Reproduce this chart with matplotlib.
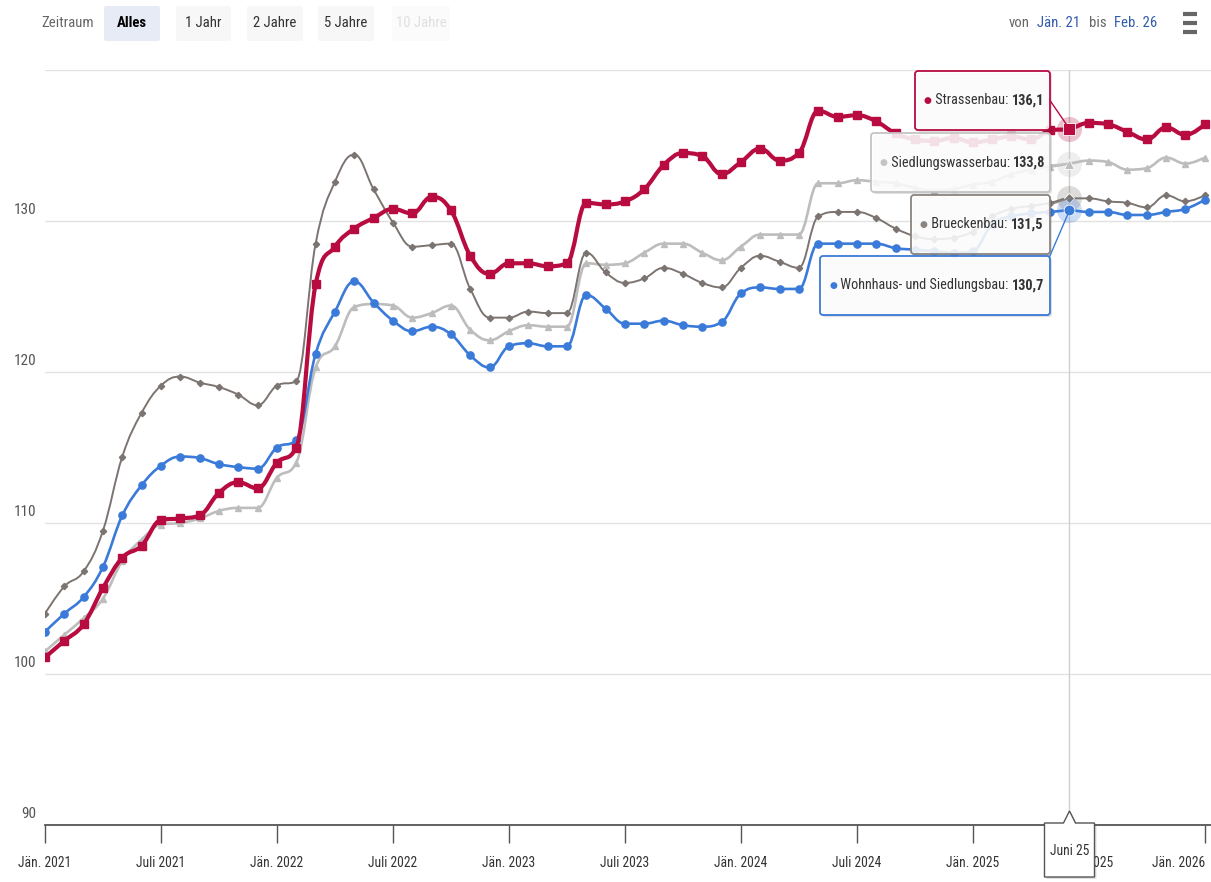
import numpy as np
import matplotlib
matplotlib.use("Agg")
import matplotlib.pyplot as plt
from matplotlib.path import Path
from matplotlib.patches import PathPatch, FancyBboxPatch, Polygon
from matplotlib.transforms import IdentityTransform
from matplotlib.text import Annotation
from matplotlib import font_manager

# Baupreisindex (Basis 2020 = 100), monatlich Jän. 2021 - Jän. 2026
wohnhaus = [102.8, 104.0, 105.1, 107.1, 110.5, 112.5, 113.8, 114.4, 114.3, 113.9, 113.7, 113.6,
            115.0, 115.5, 121.2, 124.0, 126.0, 124.6, 123.4, 122.7, 123.0, 122.5, 121.1, 120.3,
            121.7, 121.9, 121.7, 121.7, 125.1, 124.2, 123.2, 123.2, 123.4, 123.1, 123.0, 123.3,
            125.2, 125.6, 125.5, 125.5, 128.5, 128.5, 128.5, 128.5, 128.2, 128.1, 128.0, 127.9,
            128.0, 129.8, 130.3, 130.5, 130.6, 130.7, 130.6, 130.6, 130.4, 130.4, 130.6, 130.8,
            131.4]
brueckenbau = [104.0, 105.8, 106.8, 109.5, 114.4, 117.3, 119.1, 119.7, 119.3, 119.0, 118.5, 117.8,
               119.1, 119.4, 128.5, 132.6, 134.4, 132.1, 129.9, 128.3, 128.4, 128.5, 125.5, 123.6,
               123.6, 124.0, 123.9, 123.9, 127.9, 126.6, 125.9, 126.2, 126.9, 126.5, 125.9, 125.6,
               126.9, 127.7, 127.3, 126.9, 130.3, 130.6, 130.6, 130.2, 129.5, 129.0, 128.8, 128.9,
               129.3, 130.3, 130.8, 131.0, 131.2, 131.5, 131.5, 131.3, 131.2, 130.9, 131.7, 131.3,
               131.7]
strassenbau = [101.1, 102.2, 103.3, 105.7, 107.7, 108.5, 110.2, 110.3, 110.5, 112.0, 112.7, 112.3,
               114.0, 115.0, 125.8, 128.3, 129.5, 130.2, 130.8, 130.5, 131.6, 130.7, 127.7, 126.5,
               127.2, 127.2, 127.0, 127.2, 131.2, 131.1, 131.3, 132.1, 133.7, 134.5, 134.3, 133.1,
               133.9, 134.8, 134.0, 134.5, 137.3, 136.9, 137.0, 136.6, 135.8, 135.4, 135.3, 135.5,
               135.2, 135.4, 135.6, 135.4, 136.0, 136.1, 136.5, 136.4, 135.9, 135.4, 136.2, 135.7,
               136.4]
siedlungswasserbau = [101.5, 102.6, 103.7, 105.0, 107.5, 108.9, 109.9, 110.0, 110.3, 110.8, 111.0, 111.0,
                      113.0, 114.0, 120.3, 121.7, 124.3, 124.5, 124.4, 123.6, 123.9, 124.4, 122.8, 122.1,
                      122.7, 123.1, 123.0, 123.0, 127.2, 127.1, 127.2, 127.9, 128.5, 128.5, 127.9, 127.4,
                      128.3, 129.1, 129.1, 129.1, 132.5, 132.5, 132.7, 132.6, 132.5, 132.2, 132.0, 132.1,
                      132.4, 132.6, 133.1, 133.4, 133.6, 133.8, 134.0, 133.9, 133.4, 133.5, 134.2, 133.8,
                      134.2]

xtick_pos = list(range(0, 61, 6))
xtick_labels = ["Jän. 2021", "Juli 2021", "Jän. 2022", "Juli 2022", "Jän. 2023", "Juli 2023",
                "Jän. 2024", "Juli 2024", "Jän. 2025", "Juli 2025", "Jän. 2026"]
yticks = [90, 100, 110, 120, 130, 140]
hover_idx = 53          # Juni 2025
hover_label = "Juni 25"

W, H = 1211, 882
names = {f.name for f in font_manager.fontManager.ttflist}
narrow = [c for c in ["Roboto Condensed", "Liberation Sans Narrow", "Arial Narrow",
                      "Noto Sans Condensed", "Open Sans Condensed"] if c in names]
if narrow:
    FONT, k = narrow[0], 1.0
else:
    FONT, k = "Liberation Sans", 0.84
plt.rcParams["font.family"] = [FONT, "DejaVu Sans"]
FS_TIP = 10.3 * k
FS_TICK = 9.8 * k
FS_BAR = 10.6 * k
FS_Y = 11.0 * k

RED = "#b80c41"
BLUE = "#3a7ad8"
BROWN = "#7b7470"
LGRAY = "#bdbdbd"


def spline_path(xs, ys, smoothing=1.5):
    # same control point scheme as a Highcharts spline
    denom = smoothing + 1
    n = len(xs)
    left = [None] * n
    right = [None] * n
    for i in range(n):
        x, y = xs[i], ys[i]
        if 0 < i < n - 1:
            lx, ly = xs[i - 1], ys[i - 1]
            nx, ny = xs[i + 1], ys[i + 1]
            lcx = (smoothing * x + lx) / denom
            lcy = (smoothing * y + ly) / denom
            rcx = (smoothing * x + nx) / denom
            rcy = (smoothing * y + ny) / denom
            if rcx != lcx:
                corr = (rcy - lcy) * (rcx - x) / (rcx - lcx) + y - rcy
                lcy += corr
                rcy += corr
            if lcy > ly and lcy > y:
                lcy = max(ly, y); rcy = 2 * y - lcy
            elif lcy < ly and lcy < y:
                lcy = min(ly, y); rcy = 2 * y - lcy
            if rcy > ny and rcy > y:
                rcy = max(ny, y); lcy = 2 * y - rcy
            elif rcy < ny and rcy < y:
                rcy = min(ny, y); lcy = 2 * y - rcy
            left[i] = (lcx, lcy)
            right[i] = (rcx, rcy)
        else:
            left[i] = right[i] = (x, y)
    verts = [(xs[0], ys[0])]
    codes = [Path.MOVETO]
    for i in range(1, n):
        verts += [right[i - 1], left[i], (xs[i], ys[i])]
        codes += [Path.CURVE4] * 3
    return Path(verts, codes)


def P(x, y):
    # pixel position measured from the top left corner
    return x, H - y


fig = plt.figure(figsize=(W / 100, H / 100), dpi=100)
ax = fig.add_axes([45 / W, (H - 825) / H, (W - 45) / W, (825 - 70) / H])
ax.set_xlim(0, (W - 45) / 19.33)
ax.set_ylim(90, 140)

for s in ["left", "right", "top"]:
    ax.spines[s].set_visible(False)
ax.spines["bottom"].set_color("#555555")
ax.spines["bottom"].set_linewidth(1.3)
ax.set_yticks(yticks)
ax.set_yticklabels([])
ax.tick_params(axis="y", length=0)
ax.grid(axis="y", color="#e3e3e3", lw=1)
ax.set_axisbelow(True)
ax.set_xticks(xtick_pos)
ax.set_xticklabels(xtick_labels, fontsize=FS_TICK, color="#333333")
ax.get_xticklabels()[-1].set_horizontalalignment("right")
ax.tick_params(axis="x", length=13, width=1, color="#555555", pad=9)

ylab_tr = ax.get_yaxis_transform()
for v in yticks[:-1]:
    ax.annotate(str(v), xy=(0, v), xycoords=ylab_tr, xytext=(-6, 8), textcoords="offset points",
                ha="right", va="center", fontsize=FS_Y, color="#555555", annotation_clip=False)

ax.axvline(hover_idx, color="#cfcfcf", lw=1, zorder=1)

x = np.arange(len(strassenbau))
series = [
    ("Siedlungswasserbau", siedlungswasserbau, LGRAY, "^", 5.0, 1.9, 2),
    ("Brueckenbau", brueckenbau, BROWN, "D", 3.2, 1.4, 3),
    ("Wohnhaus- und Siedlungsbau", wohnhaus, BLUE, "o", 5.2, 1.9, 4),
    ("Strassenbau", strassenbau, RED, "s", 5.8, 3.0, 5),
]
for name, vals, col, mk, ms, lw, z in series:
    ax.add_patch(PathPatch(spline_path(x, vals), fill=False, edgecolor=col, lw=lw,
                           capstyle="round", joinstyle="round", zorder=z))
    ax.plot(x, vals, ls="none", marker=mk, ms=ms, color=col, mec=col, zorder=z)
    hv = vals[hover_idx]
    ax.plot(hover_idx, hv, ls="none", marker="o", ms=18, color=col, alpha=0.25, mec="none", zorder=z)
    ax.plot(hover_idx, hv, ls="none", marker=mk, ms=ms * 1.5, color=col, mec="white", mew=0.6, zorder=z + 0.5)

# split tooltip boxes: name, values, colour, box corners (pixels), connector start
tips = [
    ("Strassenbau", strassenbau, RED, (915, 71, 1050, 130), (1049, 99)),
    ("Siedlungswasserbau", siedlungswasserbau, "#c4c4c4", (871, 133, 1050, 192), (1049, 165)),
    ("Brueckenbau", brueckenbau, "#8a8480", (911, 195, 1050, 254), (1049, 205)),
    ("Wohnhaus- und Siedlungsbau", wohnhaus, BLUE, (820, 256, 1050, 315), (1049, 258)),
]
ident = IdentityTransform()
for name, vals, col, (x0, y0, x1, y1), (cx, cy) in tips:
    v = vals[hover_idx]
    px, py = ax.transData.transform((hover_idx, v))
    fig.add_artist(plt.Line2D([cx, px], [H - cy, py], color=col, lw=1, transform=ident, zorder=6))
    shadow = FancyBboxPatch(P(x0 + 2, y1 + 2), x1 - x0, y1 - y0, boxstyle="round,pad=0,rounding_size=3",
                            transform=ident, fc="#000000", alpha=0.12, ec="none", zorder=6)
    box = FancyBboxPatch(P(x0, y1), x1 - x0, y1 - y0, boxstyle="round,pad=0,rounding_size=3",
                         transform=ident, fc=(1, 1, 1, 0.88), ec=col, lw=1.3, zorder=7)
    fig.add_artist(shadow)
    fig.add_artist(box)
    yc = H - (y0 + y1) / 2
    b = fig.text(x0 + 9, yc, "\u25cf", transform=ident, fontsize=6.5, color=col,
                 ha="left", va="center", zorder=8)
    t = Annotation(" " + name + ": ", xy=(1, 0.5), xycoords=b, ha="left", va="center",
                   fontsize=FS_TIP, color="#333333", zorder=8)
    fig.add_artist(t)
    fig.add_artist(Annotation(f"{v:.1f}".replace(".", ","), xy=(1, 0.5), xycoords=t, ha="left",
                              va="center", fontsize=FS_TIP, fontweight="bold", color="#333333", zorder=8))

# crosshair label on the x axis
hx = ax.transData.transform((hover_idx, 90))[0]
lab = [(hx - 25, H - 823), (hx - 6, H - 823), (hx, H - 811), (hx + 6, H - 823), (hx + 25, H - 823),
       (hx + 25, H - 877), (hx - 25, H - 877)]
fig.add_artist(Polygon([(a + 2, c - 2) for a, c in lab], closed=True, transform=ident,
                       fc="#000000", alpha=0.12, ec="none", zorder=6))
fig.add_artist(Polygon(lab, closed=True, transform=ident, fc="white", ec="#555555", lw=1, zorder=7))
fig.text(hx, H - 851, hover_label, transform=ident, ha="center", va="center",
         fontsize=FS_TICK, color="#333333", zorder=8)

# range selector and date inputs
buttons = [("Alles", 104, 160, "#e6ebf5", "#000000", "bold"),
           ("1 Jahr", 176, 231, "#f7f7f7", "#333333", "normal"),
           ("2 Jahre", 247, 303, "#f7f7f7", "#333333", "normal"),
           ("5 Jahre", 318, 374, "#f7f7f7", "#333333", "normal"),
           ("10 Jahre", 392, 450, "#fbfbfb", "#e0e0e0", "normal")]
fig.text(68, H - 23, "Zeitraum", transform=ident, ha="center", va="center", fontsize=FS_BAR, color="#666666")
for txt, bx0, bx1, bg, fc, fw in buttons:
    fig.add_artist(FancyBboxPatch(P(bx0, 41), bx1 - bx0, 35, boxstyle="round,pad=0,rounding_size=2",
                                  transform=ident, fc=bg, ec="none", zorder=1))
    fig.text((bx0 + bx1) / 2, H - 23, txt, transform=ident, ha="center", va="center",
             fontsize=FS_BAR, color=fc, fontweight=fw, zorder=2)

for txt, xc, col in [("von", 1019, "#666666"), ("Jän. 21", 1059, "#335cad"),
                     ("bis", 1098, "#666666"), ("Feb. 26", 1136, "#335cad")]:
    fig.text(xc, H - 23, txt, transform=ident, ha="center", va="center", fontsize=FS_BAR, color=col)

for yy in (14, 23, 32):
    fig.add_artist(plt.Line2D([1183, 1197], [H - yy, H - yy], color="#666666", lw=3,
                              solid_capstyle="butt", transform=ident))

fig.savefig("out.png", dpi=100)
